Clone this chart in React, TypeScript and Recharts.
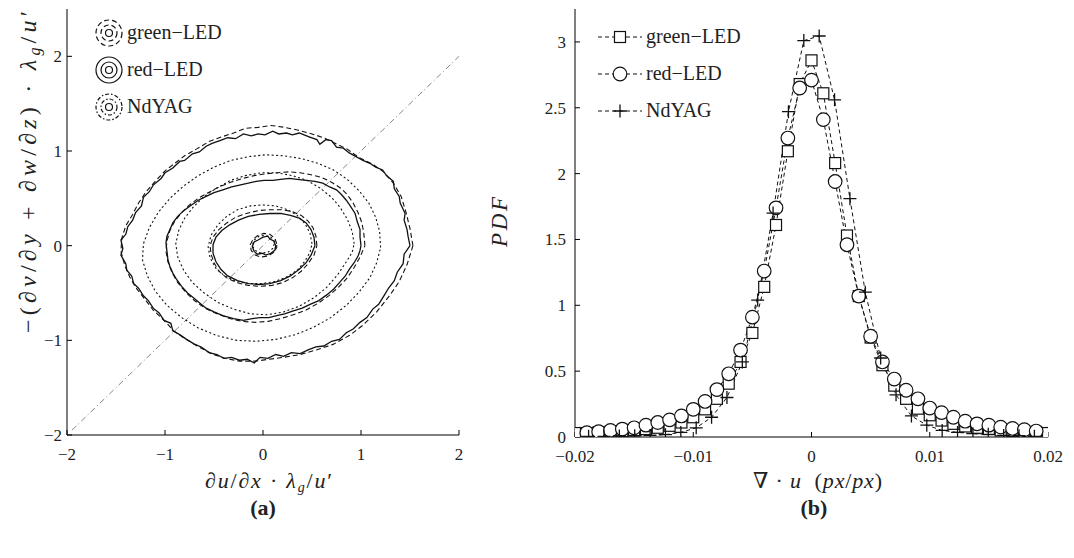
import React from "react";
import { LineChart, Line, XAxis, YAxis } from "recharts";

// ---- panel (a): joint PDF contours ----
const ticksA = [-2, -1, 0, 1, 2];

const redOuter = [
  [1.5, 0.0], [1.48, 0.1], [1.47, 0.17], [1.44, 0.27], [1.45, 0.34], [1.4, 0.45], [1.39, 0.52], [1.34, 0.6],
  [1.33, 0.68], [1.26, 0.74], [1.22, 0.8], [1.15, 0.83], [1.09, 0.87], [1.02, 0.9], [0.95, 0.94], [0.88, 0.98],
  [0.82, 1.03], [0.75, 1.04], [0.7, 1.11], [0.64, 1.12], [0.58, 1.07], [0.55, 1.12], [0.47, 1.15], [0.37, 1.19],
  [0.3, 1.17], [0.24, 1.19], [0.16, 1.18], [0.1, 1.21], [0.02, 1.17], [-0.05, 1.18], [-0.12, 1.16], [-0.2, 1.18],
  [-0.28, 1.13], [-0.36, 1.14], [-0.44, 1.11], [-0.52, 1.08], [-0.58, 1.05], [-0.65, 0.99], [-0.72, 0.97],
  [-0.8, 0.9], [-0.85, 0.89], [-0.92, 0.82], [-1.0, 0.77], [-1.04, 0.71], [-1.12, 0.64], [-1.16, 0.57],
  [-1.22, 0.51], [-1.24, 0.42], [-1.3, 0.35], [-1.33, 0.27], [-1.38, 0.2], [-1.4, 0.12], [-1.45, 0.06],
  [-1.43, -0.03], [-1.45, -0.1], [-1.4, -0.19], [-1.39, -0.26], [-1.34, -0.32], [-1.32, -0.4], [-1.27, -0.45],
  [-1.22, -0.53], [-1.17, -0.58], [-1.12, -0.66], [-1.06, -0.71], [-1.01, -0.79], [-0.94, -0.82], [-0.92, -0.9],
  [-0.85, -0.94], [-0.78, -0.99], [-0.7, -1.04], [-0.63, -1.07], [-0.55, -1.13], [-0.47, -1.15], [-0.4, -1.19],
  [-0.32, -1.18], [-0.24, -1.21], [-0.16, -1.2], [-0.09, -1.24], [-0.03, -1.18], [0.05, -1.19], [0.13, -1.15],
  [0.21, -1.17], [0.29, -1.13], [0.38, -1.14], [0.46, -1.1], [0.54, -1.07], [0.62, -1.06], [0.7, -1.01],
  [0.78, -0.99], [0.85, -0.92], [0.92, -0.88], [0.99, -0.81], [1.06, -0.76], [1.12, -0.67], [1.18, -0.62],
  [1.24, -0.52], [1.28, -0.45], [1.34, -0.37], [1.37, -0.28], [1.43, -0.19], [1.44, -0.09], [1.5, 0.0],
];
const redMid = [
  [1.0, 0.0], [0.99, 0.09], [0.99, 0.17], [0.96, 0.26], [0.94, 0.34], [0.89, 0.42], [0.85, 0.48], [0.8, 0.54],
  [0.75, 0.59], [0.68, 0.62], [0.61, 0.66], [0.53, 0.68], [0.44, 0.69], [0.35, 0.7], [0.27, 0.71], [0.18, 0.7],
  [0.1, 0.69], [0.01, 0.69], [-0.07, 0.68], [-0.15, 0.66], [-0.24, 0.64], [-0.32, 0.62], [-0.41, 0.59],
  [-0.5, 0.56], [-0.58, 0.52], [-0.66, 0.48], [-0.73, 0.43], [-0.81, 0.37], [-0.87, 0.31], [-0.92, 0.24],
  [-0.95, 0.17], [-0.98, 0.1], [-0.99, 0.03], [-0.98, -0.06], [-0.97, -0.15], [-0.95, -0.22], [-0.92, -0.29],
  [-0.88, -0.36], [-0.83, -0.43], [-0.77, -0.5], [-0.71, -0.55], [-0.64, -0.61], [-0.58, -0.66], [-0.5, -0.7],
  [-0.41, -0.74], [-0.3, -0.77], [-0.2, -0.79], [-0.11, -0.77], [-0.03, -0.76], [0.06, -0.76], [0.14, -0.74],
  [0.22, -0.72], [0.31, -0.69], [0.4, -0.66], [0.48, -0.62], [0.57, -0.58], [0.65, -0.52], [0.72, -0.46],
  [0.78, -0.39], [0.84, -0.32], [0.88, -0.25], [0.93, -0.18], [0.97, -0.11], [0.99, -0.05], [1.0, 0.0],
];
const redSmall = [
  [0.53, 0.0], [0.52, 0.09], [0.49, 0.17], [0.44, 0.24], [0.37, 0.29], [0.28, 0.32], [0.18, 0.34], [0.07, 0.34],
  [-0.04, 0.33], [-0.15, 0.31], [-0.25, 0.27], [-0.34, 0.22], [-0.42, 0.16], [-0.48, 0.09], [-0.51, 0.01],
  [-0.51, -0.08], [-0.48, -0.17], [-0.43, -0.25], [-0.36, -0.32], [-0.26, -0.37], [-0.15, -0.4], [-0.04, -0.41],
  [0.07, -0.4], [0.18, -0.37], [0.28, -0.32], [0.37, -0.25], [0.44, -0.18], [0.49, -0.1], [0.53, 0.0],
];
const redTiny = [
  [0.13, 0.0], [0.11, 0.05], [0.07, 0.07], [0.05, 0.1], [0.0, 0.09], [-0.05, 0.06], [-0.09, 0.04], [-0.11, -0.01],
  [-0.09, -0.06], [-0.06, -0.09], [-0.01, -0.08], [0.03, -0.1], [0.08, -0.08], [0.12, -0.05], [0.13, 0.0],
];

const greenOuter = [
  [1.53, 0.0], [1.5, 0.18], [1.46, 0.35], [1.41, 0.52], [1.33, 0.66], [1.23, 0.78], [1.12, 0.86], [0.98, 0.93],
  [0.86, 1.02], [0.74, 1.08], [0.62, 1.14], [0.5, 1.18], [0.36, 1.22], [0.22, 1.25], [0.08, 1.27], [-0.05, 1.25],
  [-0.18, 1.24], [-0.3, 1.19], [-0.42, 1.15], [-0.55, 1.1], [-0.68, 1.02], [-0.8, 0.95], [-0.9, 0.87],
  [-1.0, 0.79], [-1.1, 0.68], [-1.2, 0.56], [-1.27, 0.45], [-1.33, 0.33], [-1.4, 0.21], [-1.44, 0.08],
  [-1.45, -0.06], [-1.41, -0.21], [-1.36, -0.33], [-1.3, -0.44], [-1.21, -0.56], [-1.12, -0.68], [-1.01, -0.79],
  [-0.91, -0.9], [-0.8, -0.98], [-0.67, -1.06], [-0.53, -1.14], [-0.39, -1.19], [-0.24, -1.22], [-0.08, -1.22],
  [0.06, -1.2], [0.21, -1.18], [0.38, -1.15], [0.55, -1.1], [0.72, -1.04], [0.88, -0.95], [1.02, -0.84],
  [1.16, -0.7], [1.29, -0.53], [1.39, -0.38], [1.47, -0.2], [1.53, 0.0],
];
const greenMid = [
  [1.04, 0.0], [1.03, 0.12], [1.01, 0.24], [0.97, 0.35], [0.92, 0.45], [0.86, 0.54], [0.79, 0.61], [0.7, 0.67],
  [0.6, 0.72], [0.49, 0.75], [0.38, 0.77], [0.27, 0.78], [0.15, 0.77], [0.03, 0.76], [-0.09, 0.74], [-0.21, 0.71],
  [-0.33, 0.67], [-0.45, 0.62], [-0.56, 0.56], [-0.66, 0.5], [-0.75, 0.43], [-0.83, 0.35], [-0.9, 0.26],
  [-0.95, 0.16], [-0.98, 0.05], [-0.99, -0.06], [-0.97, -0.17], [-0.93, -0.28], [-0.87, -0.39], [-0.79, -0.49],
  [-0.7, -0.58], [-0.59, -0.66], [-0.47, -0.72], [-0.34, -0.77], [-0.21, -0.8], [-0.08, -0.81], [0.05, -0.8],
  [0.18, -0.77], [0.31, -0.73], [0.44, -0.68], [0.56, -0.61], [0.67, -0.53], [0.77, -0.44], [0.86, -0.34],
  [0.93, -0.23], [0.99, -0.12], [1.04, 0.0],
];
const greenSmall = [
  [0.55, 0.0], [0.54, 0.1], [0.51, 0.19], [0.46, 0.26], [0.39, 0.32], [0.3, 0.36], [0.19, 0.38], [0.07, 0.38],
  [-0.05, 0.37], [-0.17, 0.34], [-0.28, 0.3], [-0.37, 0.24], [-0.45, 0.17], [-0.51, 0.09], [-0.54, 0.0],
  [-0.53, -0.09], [-0.5, -0.18], [-0.45, -0.27], [-0.37, -0.34], [-0.27, -0.39], [-0.15, -0.42], [-0.03, -0.43],
  [0.09, -0.42], [0.2, -0.39], [0.3, -0.34], [0.39, -0.27], [0.46, -0.19], [0.52, -0.1], [0.55, 0.0],
];
const greenTiny = [
  [0.14, 0.02], [0.12, 0.08], [0.07, 0.12], [0.01, 0.13], [-0.05, 0.11], [-0.1, 0.07], [-0.13, 0.01],
  [-0.12, -0.05], [-0.08, -0.1], [-0.02, -0.12], [0.05, -0.11], [0.11, -0.07], [0.14, -0.02], [0.14, 0.02],
];

const ndBig = [
  [1.2, -0.02], [1.19, 0.15], [1.15, 0.3], [1.08, 0.45], [0.98, 0.58], [0.86, 0.7], [0.72, 0.8], [0.56, 0.87],
  [0.39, 0.92], [0.21, 0.95], [0.03, 0.96], [-0.15, 0.94], [-0.33, 0.9], [-0.5, 0.83], [-0.66, 0.74],
  [-0.81, 0.63], [-0.95, 0.5], [-1.07, 0.35], [-1.16, 0.19], [-1.22, 0.02], [-1.23, -0.15], [-1.18, -0.32],
  [-1.1, -0.48], [-0.98, -0.63], [-0.83, -0.76], [-0.66, -0.87], [-0.47, -0.95], [-0.27, -1.0], [-0.07, -1.01],
  [0.13, -0.99], [0.33, -0.94], [0.52, -0.86], [0.69, -0.76], [0.85, -0.63], [0.98, -0.49], [1.09, -0.34],
  [1.16, -0.18], [1.2, -0.02],
];
const ndMid = [
  [0.93, 0.02], [0.91, 0.15], [0.86, 0.28], [0.79, 0.4], [0.7, 0.51], [0.58, 0.61], [0.45, 0.69], [0.3, 0.74],
  [0.14, 0.77], [-0.02, 0.77], [-0.18, 0.74], [-0.33, 0.69], [-0.47, 0.61], [-0.6, 0.52], [-0.71, 0.41],
  [-0.8, 0.29], [-0.86, 0.16], [-0.89, 0.02], [-0.87, -0.12], [-0.81, -0.26], [-0.72, -0.39], [-0.6, -0.5],
  [-0.46, -0.6], [-0.3, -0.67], [-0.13, -0.72], [0.04, -0.73], [0.21, -0.7], [0.37, -0.64], [0.52, -0.55],
  [0.65, -0.44], [0.76, -0.31], [0.85, -0.17], [0.91, -0.07], [0.93, 0.02],
];
const ndSmall = [
  [0.5, 0.02], [0.48, 0.13], [0.43, 0.23], [0.35, 0.32], [0.25, 0.38], [0.13, 0.42], [0.0, 0.43], [-0.13, 0.42],
  [-0.26, 0.38], [-0.37, 0.31], [-0.46, 0.22], [-0.53, 0.11], [-0.56, -0.01], [-0.54, -0.13], [-0.48, -0.24],
  [-0.39, -0.32], [-0.27, -0.38], [-0.14, -0.4], [-0.01, -0.4], [0.12, -0.38], [0.24, -0.33], [0.35, -0.26],
  [0.43, -0.16], [0.48, -0.07], [0.5, 0.02],
];
const ndTiny = [
  [0.12, 0.04], [0.08, 0.09], [0.02, 0.11], [-0.04, 0.1], [-0.09, 0.06], [-0.11, 0.0], [-0.08, -0.05],
  [-0.02, -0.08], [0.05, -0.07], [0.1, -0.03], [0.12, 0.04],
];
const diagonal = [[-1.95, -1.95], [2, 2]];

// ---- panel (b): PDF of divergence ----
const ticksBx = [-0.02, -0.01, 0, 0.01, 0.02];
const ticksBy = [0, 0.5, 1, 1.5, 2, 2.5, 3];

const greenX = [
  -0.02, -0.019, -0.018, -0.017, -0.016, -0.015, -0.014, -0.013, -0.012, -0.011, -0.01, -0.009, -0.008, -0.007,
  -0.006, -0.005, -0.004, -0.003, -0.002, -0.001, 0, 0.001, 0.002, 0.003, 0.004, 0.005, 0.006, 0.007, 0.008,
  0.009, 0.01, 0.011, 0.012, 0.013, 0.014, 0.015, 0.016, 0.017, 0.018, 0.019, 0.02,
];
const greenPdf = [
  0.03, 0.03, 0.035, 0.04, 0.045, 0.05, 0.06, 0.07, 0.085, 0.11, 0.15, 0.21, 0.29, 0.405, 0.57, 0.79, 1.14, 1.61,
  2.17, 2.68, 2.86, 2.61, 2.08, 1.53, 1.07, 0.755, 0.545, 0.39, 0.29, 0.215, 0.165, 0.125, 0.1, 0.08, 0.07, 0.06,
  0.05, 0.045, 0.04, 0.035, 0.03,
];
const redX = [
  -0.019, -0.018, -0.017, -0.016, -0.015, -0.014, -0.013, -0.012, -0.011, -0.01, -0.009, -0.008, -0.007, -0.006,
  -0.005, -0.004, -0.003, -0.002, -0.001, 0, 0.001, 0.002, 0.003, 0.004, 0.005, 0.006, 0.007, 0.008, 0.009, 0.01,
  0.011, 0.012, 0.013, 0.014, 0.015, 0.016, 0.017, 0.018, 0.019,
];
const redPdf = [
  0.033, 0.04, 0.05, 0.06, 0.07, 0.09, 0.11, 0.13, 0.16, 0.21, 0.27, 0.36, 0.48, 0.66, 0.91, 1.26, 1.74, 2.27,
  2.65, 2.71, 2.41, 1.94, 1.46, 1.07, 0.765, 0.57, 0.44, 0.355, 0.29, 0.22, 0.185, 0.15, 0.12, 0.1, 0.09, 0.075,
  0.065, 0.055, 0.045,
];
const ndX = [
  -0.01885, -0.01755, -0.01625, -0.01495, -0.01365, -0.01235, -0.01105, -0.00975, -0.00845, -0.00715, -0.00585,
  -0.00455, -0.00325, -0.00195, -0.00065, 0.00065, 0.00195, 0.00325, 0.00455, 0.00585, 0.00715, 0.00845,
  0.00975, 0.01105, 0.01235, 0.01365, 0.01495, 0.01625, 0.01755, 0.01885,
];
const ndPdf = [
  0.005, 0.005, 0.008, 0.01, 0.012, 0.018, 0.035, 0.07, 0.15, 0.3, 0.57, 1.04, 1.7, 2.47, 3.01, 3.045, 2.56, 1.81,
  1.1, 0.6, 0.32, 0.16, 0.09, 0.05, 0.035, 0.025, 0.02, 0.012, 0.01, 0.005,
];

const FONT = "Liberation Serif, DejaVu Serif, serif";
const tickStyle = { fill: "#222", fontSize: 17, fontFamily: FONT };

const pts = (a: number[][]) => a.map(([x, y]) => ({ x, y }));
const zip = (xs: number[], ys: number[]) => xs.map((x, i) => ({ x, y: ys[i] }));
const minus = (v: number) => (v < 0 ? "\u2212" + Math.abs(v) : String(v));

const SOLID = undefined;
const DASHED = "5 3";
const DOTTED = "2 2.5";

const contours = [
  { key: "ro", d: redOuter, dash: SOLID },
  { key: "go", d: greenOuter, dash: DASHED },
  { key: "nb", d: ndBig, dash: DOTTED },
  { key: "rm", d: redMid, dash: SOLID },
  { key: "gm", d: greenMid, dash: DASHED },
  { key: "nm", d: ndMid, dash: DOTTED },
  { key: "rs", d: redSmall, dash: SOLID },
  { key: "gs", d: greenSmall, dash: DASHED },
  { key: "ns", d: ndSmall, dash: DOTTED },
  { key: "rt", d: redTiny, dash: SOLID },
  { key: "gt", d: greenTiny, dash: DASHED },
  { key: "nt", d: ndTiny, dash: DOTTED },
];

function PanelA() {
  return (
    <LineChart width={480} height={470} margin={{ top: 9, right: 21, bottom: 5, left: 17 }} style={{ fontFamily: FONT }}>
      <XAxis xAxisId="b" type="number" dataKey="x" domain={[-2, 2]} ticks={ticksA} allowDataOverflow
        tickSize={-5} tickMargin={18} height={30} stroke="#000" tick={tickStyle} tickFormatter={minus} />
      <XAxis xAxisId="t" orientation="top" type="number" dataKey="x" domain={[-2, 2]} ticks={ticksA}
        allowDataOverflow tickSize={-5} height={0} stroke="#000" tick={false} />
      <YAxis yAxisId="l" type="number" domain={[-2, 2.5]} ticks={ticksA} allowDataOverflow
        tickSize={-5} tickMargin={10} width={50} stroke="#000" tick={tickStyle} tickFormatter={minus} />
      <YAxis yAxisId="r" orientation="right" type="number" domain={[-2, 2.5]} ticks={ticksA}
        allowDataOverflow tickSize={-5} width={0} stroke="#000" tick={false} />
      <Line xAxisId="t" yAxisId="r" data={pts(diagonal)} dataKey="y" stroke="#777" strokeWidth={0.9}
        strokeDasharray="6 3 1 3" dot={false} activeDot={false} isAnimationActive={false} />
      {contours.map((c) => (
        <Line key={c.key} xAxisId="b" yAxisId="l" data={pts(c.d)} dataKey="y" stroke="#111"
          strokeWidth={c.dash ? 1.1 : 1.3} strokeDasharray={c.dash} dot={false} activeDot={false}
          isAnimationActive={false} />
      ))}
    </LineChart>
  );
}

const Square = (p: any) => (
  <rect key={`s${p.index}`} x={p.cx - 5.5} y={p.cy - 5.5} width={11} height={11} fill="#fff" stroke="#111" strokeWidth={1.2} />
);
const Ring = (p: any) => (
  <circle key={`c${p.index}`} cx={p.cx} cy={p.cy} r={6.8} fill="#fff" stroke="#111" strokeWidth={1.2} />
);
const Plus = (p: any) => (
  <path key={`p${p.index}`} d={`M${p.cx - 6.5},${p.cy}H${p.cx + 6.5}M${p.cx},${p.cy - 6.5}V${p.cy + 6.5}`}
    stroke="#111" strokeWidth={1.3} />
);

function PanelB() {
  return (
    <LineChart width={554} height={472} margin={{ top: 9, right: 26, bottom: 5, left: 15 }} style={{ fontFamily: FONT }}>
      <XAxis xAxisId="b" type="number" dataKey="x" domain={[-0.02, 0.02]} ticks={ticksBx} allowDataOverflow
        tickSize={-5} tickMargin={18} height={30} stroke="#000" tick={tickStyle} tickFormatter={minus} />
      <XAxis xAxisId="t" orientation="top" type="number" dataKey="x" domain={[-0.02, 0.02]} ticks={ticksBx}
        allowDataOverflow tickSize={-5} height={0} stroke="#000" tick={false} />
      <YAxis yAxisId="l" type="number" domain={[0, 3.25]} ticks={ticksBy} allowDataOverflow
        tickSize={-5} tickMargin={14} width={40} stroke="#000" tick={tickStyle} />
      <YAxis yAxisId="r" orientation="right" type="number" domain={[0, 3.25]} ticks={ticksBy}
        allowDataOverflow tickSize={-5} width={0} stroke="#000" tick={false} />
      <Line xAxisId="b" yAxisId="l" data={zip(greenX, greenPdf)} dataKey="y" stroke="#111" strokeWidth={1}
        strokeDasharray="4 3" dot={Square} activeDot={false} isAnimationActive={false} />
      <Line xAxisId="b" yAxisId="l" data={zip(redX, redPdf)} dataKey="y" stroke="#111" strokeWidth={1}
        strokeDasharray="4 3" dot={Ring} activeDot={false} isAnimationActive={false} />
      <Line xAxisId="t" yAxisId="r" data={zip(ndX, ndPdf)} dataKey="y" stroke="#111" strokeWidth={1}
        strokeDasharray="4 3" dot={Plus} activeDot={false} isAnimationActive={false} />
    </LineChart>
  );
}

function Overlay() {
  const legA = [
    { label: "green\u2212LED", dash: DASHED, y: 33 },
    { label: "red\u2212LED", dash: SOLID, y: 70 },
    { label: "NdYAG", dash: "4 2 1.5 2", y: 107 },
  ];
  const legB = [
    { label: "green\u2212LED", y: 37, m: "s" },
    { label: "red\u2212LED", y: 74, m: "c" },
    { label: "NdYAG", y: 111, m: "p" },
  ];
  return (
    <svg width={1074} height={558} style={{ position: "absolute", left: 0, top: 0, fontFamily: FONT }} fill="#222">
      {legA.map((l) => (
        <g key={l.label}>
          {[13, 8, 3.5].map((r) => (
            <circle key={r} cx={109} cy={l.y} r={r} fill="none" stroke="#111" strokeWidth={1.2}
              strokeDasharray={r > 4 ? l.dash : undefined} />
          ))}
          <text x={127} y={l.y + 6} fontSize={20}>{l.label}</text>
        </g>
      ))}
      {legB.map((l) => (
        <g key={l.label}>
          <line x1={598} x2={642} y1={l.y} y2={l.y} stroke="#111" strokeDasharray="4 3" />
          {l.m === "s" && <rect x={614.5} y={l.y - 5.5} width={11} height={11} fill="#fff" stroke="#111" strokeWidth={1.2} />}
          {l.m === "c" && <circle cx={620} cy={l.y} r={6.8} fill="#fff" stroke="#111" strokeWidth={1.2} />}
          {l.m === "p" && <path d={`M613.5,${l.y}H626.5M620,${l.y - 6.5}V${l.y + 6.5}`} stroke="#111" strokeWidth={1.3} />}
          <text x={646} y={l.y + 6} fontSize={20}>{l.label}</text>
        </g>
      ))}
      <text x={205} y={488} fontSize={22} textLength={127} lengthAdjust="spacing">
        <tspan fontStyle="italic">∂u</tspan>/<tspan fontStyle="italic">∂x</tspan> · <tspan fontStyle="italic">λ</tspan>
        <tspan fontStyle="italic" fontSize={14} dy={4}>g</tspan>
        <tspan dy={-4}>/</tspan><tspan fontStyle="italic">u</tspan>′
      </text>
      <text transform="translate(36,333) rotate(-90)" fontSize={24} textLength={322} lengthAdjust="spacing">
        −(<tspan fontStyle="italic">∂v</tspan>/<tspan fontStyle="italic">∂y</tspan> + <tspan fontStyle="italic">∂w</tspan>/<tspan fontStyle="italic">∂z</tspan>) · <tspan fontStyle="italic">λ</tspan>
        <tspan fontStyle="italic" fontSize={16} dy={4}>g</tspan>
        <tspan dy={-4}>/</tspan><tspan fontStyle="italic">u</tspan>′
      </text>
      <text transform="translate(507,247) rotate(-90)" fontSize={23} fontStyle="italic" textLength={50} lengthAdjust="spacing">PDF</text>
      <text x={753} y={488} fontSize={22} textLength={129} lengthAdjust="spacing">
        ∇ · <tspan fontStyle="italic">u</tspan>{"\u00a0\u00a0"}(<tspan fontStyle="italic">px</tspan>/<tspan fontStyle="italic">px</tspan>)
      </text>
      <text x={263} y={515} fontSize={22} fontWeight="bold" textAnchor="middle">(a)</text>
      <text x={814} y={515} fontSize={22} fontWeight="bold" textAnchor="middle">(b)</text>
    </svg>
  );
}

export default function App() {
  return (
    <div style={{ position: "absolute", left: 0, top: 0, width: 1074, height: 558, background: "#fff" }}>
      <div style={{ position: "absolute", left: 0, top: 0 }}>
        <PanelA />
      </div>
      <div style={{ position: "absolute", left: 520, top: 0 }}>
        <PanelB />
      </div>
      <Overlay />
    </div>
  );
}
